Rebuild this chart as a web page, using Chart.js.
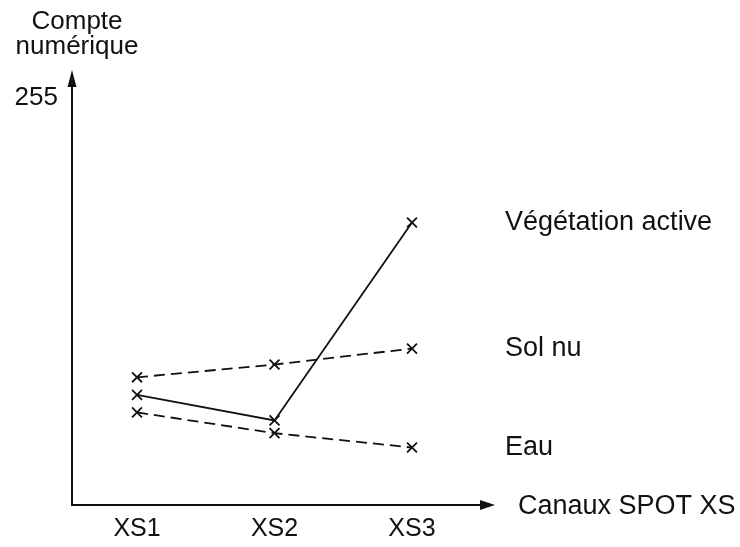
<!DOCTYPE html>
<html>
<head>
<meta charset="utf-8">
<script src="https://cdn.jsdelivr.net/npm/chart.js@4"></script>
<style>
  html, body { margin: 0; padding: 0; background: #fff; }
  #wrap { width: 740px; height: 547px; }
</style>
</head>
<body>
<div id="wrap"><canvas id="myChart" width="740" height="547"></canvas></div>
<script>
// Values (digital counts, 0-255)
const channels = ['XS1', 'XS2', 'XS3'];
const vegetation = [69, 53, 177];
const solNu = [80, 88, 98];
const eau = [58, 45, 36];
const yTicks = [255];
const seriesNames = ['Végétation active', 'Sol nu', 'Eau'];

const FONT = '"Liberation Sans", Arial, Helvetica, sans-serif';

function toPoints(values) {
    return values.map((v, i) => ({ x: i + 1, y: v }));
}

// axis arrows, y title and the series labels at the right
const decorations = {
    id: 'decorations',
    afterDraw(chart) {
        const ctx = chart.ctx;
        const a = chart.chartArea;
        ctx.save();
        ctx.fillStyle = '#111';
        // y arrow
        ctx.beginPath();
        ctx.moveTo(a.left, a.top - 12);
        ctx.lineTo(a.left - 4.5, a.top + 5);
        ctx.lineTo(a.left + 4.5, a.top + 5);
        ctx.closePath();
        ctx.fill();
        // x arrow
        ctx.beginPath();
        ctx.moveTo(a.right + 10, a.bottom);
        ctx.lineTo(a.right - 5, a.bottom - 5);
        ctx.lineTo(a.right - 5, a.bottom + 5);
        ctx.closePath();
        ctx.fill();

        ctx.font = '26px ' + FONT;
        ctx.textBaseline = 'middle';
        ctx.textAlign = 'center';
        ctx.fillText('Compte', 77, 22);
        ctx.fillText('numérique', 77, 47);

        ctx.font = '27px ' + FONT;
        ctx.textAlign = 'left';
        ctx.fillText('Canaux SPOT XS', a.right + 33, a.bottom + 2);

        chart.data.datasets.forEach((ds, i) => {
            const meta = chart.getDatasetMeta(i);
            const last = meta.data[meta.data.length - 1];
            ctx.fillText(seriesNames[i], a.right + 20, last.y);
        });
        ctx.restore();
    }
};

const common = {
    borderColor: '#111',
    borderWidth: 1.8,
    pointStyle: 'crossRot',
    pointRadius: 7,
    pointBorderWidth: 1.8,
    pointBorderColor: '#111',
    fill: false,
    tension: 0
};

const ctx = document.getElementById('myChart').getContext('2d');
new Chart(ctx, {
    type: 'line',
    data: {
        datasets: [
            Object.assign({ label: seriesNames[0], data: toPoints(vegetation) }, common),
            Object.assign({ label: seriesNames[1], data: toPoints(solNu), borderDash: [11, 6] }, common),
            Object.assign({ label: seriesNames[2], data: toPoints(eau), borderDash: [11, 6] }, common)
        ]
    },
    options: {
        responsive: false,
        animation: false,
        layout: { padding: { top: 82, right: 255, left: 0, bottom: 0 } },
        plugins: {
            legend: { display: false },
            tooltip: { enabled: false },
            title: { display: false }
        },
        scales: {
            x: {
                type: 'linear',
                min: 0.527,
                max: 3.531,
                grid: { display: false, drawTicks: false },
                border: { display: true, color: '#111', width: 2 },
                afterBuildTicks: s => { s.ticks = channels.map((_, i) => ({ value: i + 1 })); },
                afterFit: s => { s.height = 42; },
                ticks: {
                    color: '#111',
                    padding: 9,
                    font: { family: FONT, size: 25 },
                    callback: v => channels[v - 1]
                }
            },
            y: {
                min: 0,
                max: 265,
                grid: { display: false, drawTicks: false },
                border: { display: true, color: '#111', width: 2 },
                afterBuildTicks: s => { s.ticks = yTicks.map(v => ({ value: v })); },
                afterFit: s => { s.width = 72; },
                ticks: {
                    color: '#111',
                    padding: 14,
                    font: { family: FONT, size: 26 }
                }
            }
        }
    },
    plugins: [decorations]
});
</script>
</body>
</html>
